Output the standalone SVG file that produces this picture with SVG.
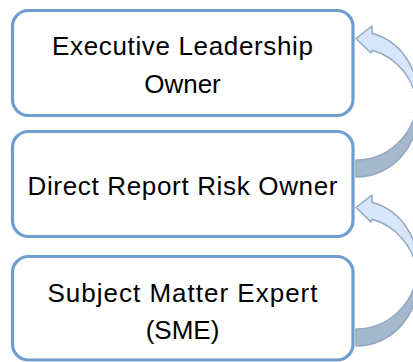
<svg xmlns="http://www.w3.org/2000/svg" width="413" height="362" viewBox="0 0 413 362">
<style>
.box{fill:#ffffff;stroke:#6f9dcf;stroke-width:3.2}
.t{font-family:"Liberation Sans",Arial,sans-serif;font-size:26px;fill:#000;text-anchor:middle}
.front{fill:#d7e6fa;stroke:#93a8bf;stroke-width:1.5;stroke-linejoin:round}
.back{fill:#a6b8cc;stroke:#93a8bf;stroke-width:1.5;stroke-linejoin:round}
</style>
<rect width="413" height="362" fill="#ffffff"/>
<g id="connectors">
<g id="arrow1">
<path class="back" d="M356,160 A61,64.5 0 0 0 417.3,104 A61,64.5 0 0 1 356,177 Z"/>
<path class="front" d="M372,26 L356,38.5 L371,53 L372,50.3 A61,64.5 0 0 1 417.3,104 A61,64.5 0 0 0 372,33.3 Z"/>
</g>
<g id="arrow2" transform="translate(0,169)">
<path class="back" d="M356,160 A61,64.5 0 0 0 417.3,104 A61,64.5 0 0 1 356,177 Z"/>
<path class="front" d="M372,26 L356,38.5 L371,53 L372,50.3 A61,64.5 0 0 1 417.3,104 A61,64.5 0 0 0 372,33.3 Z"/>
</g>
</g>
<g id="node-executive">
<rect class="box" x="12.5" y="10.5" width="340.5" height="105" rx="16"/>
<text class="t" x="182.5" y="54.5" textLength="261" lengthAdjust="spacing">Executive Leadership</text>
<text class="t" x="182.5" y="92.5">Owner</text>
</g>
<g id="node-direct">
<rect class="box" x="12.5" y="131.5" width="340.5" height="105" rx="16"/>
<text class="t" x="182.5" y="195" textLength="310" lengthAdjust="spacing">Direct Report Risk Owner</text>
</g>
<g id="node-sme">
<rect class="box" x="12.5" y="256.5" width="340.5" height="103.5" rx="16"/>
<text class="t" x="182.5" y="301.5" textLength="270" lengthAdjust="spacing">Subject Matter Expert</text>
<text class="t" x="182.5" y="339">(SME)</text>
</g>
</svg>
